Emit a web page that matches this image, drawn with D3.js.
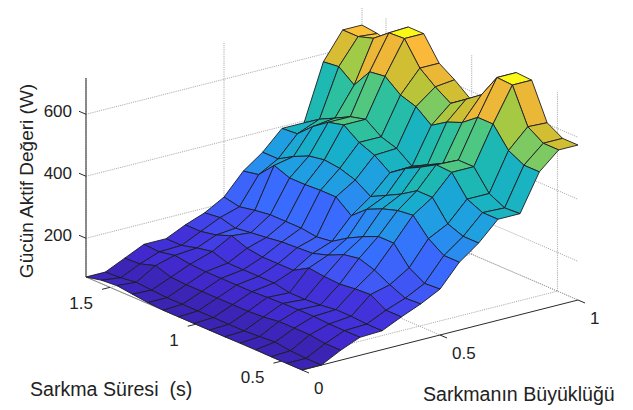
<!DOCTYPE html>
<html>
<head>
<meta charset="utf-8">
<style>
  html, body { margin: 0; padding: 0; background: #fff; }
  text { font-family: "Liberation Sans", Arial, sans-serif; fill: #222; }
</style>
<script src="https://d3js.org/d3.v7.min.js"></script>
</head>
<body>
<div id="chart"></div>
<script>
var magnitudes = [0, 0.07, 0.14, 0.21, 0.29, 0.36, 0.43, 0.5, 0.57, 0.64, 0.71, 0.79, 0.86, 0.93, 1];
var durations = [1.64, 1.55, 1.46, 1.37, 1.28, 1.19, 1.10, 1.01, 0.92, 0.83, 0.74, 0.65, 0.56, 0.47, 0.38];

// one row per magnitude, one value per duration
var power = [
  [75, 86, 90, 84, 78, 75, 75, 75, 75, 75, 76, 76, 75, 75, 75],
  [75, 78, 85, 81, 78, 78, 78, 78, 78, 78, 81, 85, 78, 75, 75],
  [104, 107, 123, 107, 104, 104, 104, 104, 104, 107, 114, 114, 114, 107, 107],
  [133, 130, 140, 133, 130, 130, 130, 130, 133, 135, 136, 136, 133, 133, 133],
  [133, 133, 146, 156, 140, 140, 140, 140, 130, 130, 133, 140, 140, 136, 136],
  [162, 162, 172, 191, 172, 165, 165, 165, 194, 188, 185, 191, 194, 165, 165],
  [185, 191, 178, 185, 191, 198, 201, 204, 220, 243, 252, 236, 210, 188, 191],
  [220, 210, 220, 227, 227, 227, 220, 227, 259, 285, 307, 307, 249, 220, 223],
  [288, 298, 349, 330, 330, 333, 333, 294, 336, 359, 375, 381, 327, 294, 294],
  [333, 333, 362, 385, 394, 388, 372, 340, 365, 391, 423, 423, 359, 340, 340],
  [394, 398, 443, 478, 491, 456, 436, 401, 436, 462, 491, 488, 423, 401, 401],
  [394, 427, 452, 478, 491, 456, 440, 404, 430, 456, 488, 488, 423, 398, 401],
  [575, 581, 543, 607, 614, 575, 559, 520, 552, 572, 610, 610, 546, 520, 520],
  [662, 662, 678, 717, 720, 646, 607, 575, 610, 646, 723, 720, 607, 575, 575],
  [662, 656, 640, 720, 720, 646, 614, 575, 591, 640, 723, 720, 604, 575, 575]
];

var powerTicks = [200, 400, 600];
var durationTicks = [1.5, 1, 0.5];
var magnitudeTicks = [0, 0.5, 1];

var colourStops = [75, 105, 140, 170, 200, 230, 270, 330, 390, 430, 470, 500, 540, 565, 590, 640, 690, 723];
var colours = ['#3b24b4', '#4128cc', '#4233dc', '#4248ee', '#3f5ff8', '#376cff', '#2f82f8', '#1f9ee2', '#17b0c8', '#1fbab0', '#38c592', '#5cc878', '#9ccb4a', '#c4c232', '#e4b835', '#fab63a', '#fcd030', '#fbfb14'];

var svg = d3.select('#chart')
  .append('svg')
  .attr('width', 633)
  .attr('height', 410);

// box corners on screen, the view is a plain parallel projection
var magX = d3.scaleLinear().domain([0, 1]).range([0, 276]);
var magY = d3.scaleLinear().domain([0, 1]).range([0, -70]);
var durX = d3.scaleLinear().domain([1.64, 0.38]).range([86, 302]);
var durY = d3.scaleLinear().domain([1.64, 0.38]).range([277, 370]);
var powY = d3.scaleLinear().domain([75, 717]).range([0, -199]);
var colour = d3.scaleLinear().domain(colourStops).range(colours);

function project(m, t, p) {
  return [durX(t) + magX(m), durY(t) + magY(m) + powY(p)];
}

var path = d3.line();

var minD = durations[0], maxD = durations[durations.length - 1];
var floorP = 75, topP = 717;

var grid = svg.append('g')
  .attr('fill', 'none')
  .attr('stroke', '#9b9b9b')
  .attr('stroke-width', 0.8)
  .attr('stroke-dasharray', '1.2,1');

function gridLine(a, b) {
  grid.append('path').attr('d', path([a, b]));
}

gridLine(project(0, minD, floorP), project(1, minD, floorP));
gridLine(project(1, minD, floorP), project(1, maxD, floorP));

powerTicks.forEach(function(p) {
  gridLine(project(0, minD, p), project(1, minD, p));
  gridLine(project(1, minD, p), project(1, maxD, p));
});

durationTicks.forEach(function(t) {
  gridLine(project(0, t, floorP), project(1, t, floorP));
  gridLine(project(1, t, floorP), project(1, t, topP));
});

magnitudeTicks.forEach(function(m) {
  gridLine(project(m, minD, floorP), project(m, maxD, floorP));
  gridLine(project(m, minD, floorP), project(m, minD, topP));
});

// duration axis sits under the surface, only a sliver of it shows
svg.append('path')
  .attr('d', path([project(0, minD, floorP), project(0, maxD, floorP)]))
  .attr('fill', 'none')
  .attr('stroke', '#8a8a8a')
  .attr('stroke-width', 1);

// painter's order, far corner first
var surface = svg.append('g')
  .attr('stroke', '#1c1c24')
  .attr('stroke-width', 0.9)
  .attr('stroke-linejoin', 'round');

for (var i = magnitudes.length - 2; i >= 0; i--) {
  for (var j = 0; j < durations.length - 1; j++) {
    surface.append('path')
      .attr('d', path([
        project(magnitudes[i], durations[j], power[i][j]),
        project(magnitudes[i + 1], durations[j], power[i + 1][j]),
        project(magnitudes[i + 1], durations[j + 1], power[i + 1][j + 1]),
        project(magnitudes[i], durations[j + 1], power[i][j + 1])
      ]) + 'Z')
      .attr('fill', colour(power[i][j + 1]));
  }
}

var axes = svg.append('g')
  .attr('fill', 'none')
  .attr('stroke', '#2a2a2a')
  .attr('stroke-width', 1);

function axisLine(a, b) {
  axes.append('path').attr('d', path([a, b]));
}

axisLine(project(0, minD, floorP), project(0, minD, topP));
axisLine(project(0, maxD, floorP), project(1, maxD, floorP));

powerTicks.forEach(function(p) {
  var a = project(0, minD, p);
  axisLine(a, [a[0] - 7, a[1] - 3]);
});

durationTicks.forEach(function(t) {
  var a = project(0, t, floorP);
  axisLine(a, [a[0] - 8, a[1] + 2]);
});

magnitudeTicks.forEach(function(m) {
  var a = project(m, maxD, floorP);
  axisLine(a, [a[0] + 7, a[1] + 3]);
});

function label(txt, x, y, size, anchor) {
  return svg.append('text')
    .attr('x', x)
    .attr('y', y)
    .attr('font-size', size)
    .attr('text-anchor', anchor || 'start')
    .text(txt);
}

powerTicks.forEach(function(p) {
  var a = project(0, minD, p);
  label(p, 72, a[1] + 3, 17, 'end');
});

durationTicks.forEach(function(t) {
  var a = project(0, t, floorP);
  label(t, a[0] - 17, a[1] + 22, 17, 'end');
});

magnitudeTicks.forEach(function(m) {
  var a = project(m, maxD, floorP);
  label(m, a[0] + 12, a[1] + 24, 17);
});

label('Sarkma Süresi\u00a0\u00a0(s)', 30, 396, 19.6);
label('Sarkmanın Büyüklüğü', 423, 401, 19.6);
label('Gücün Aktif Değeri (W)', 0, 0, 19, 'middle')
  .attr('transform', 'translate(33,181) rotate(-90)');
</script>
</body>
</html>
